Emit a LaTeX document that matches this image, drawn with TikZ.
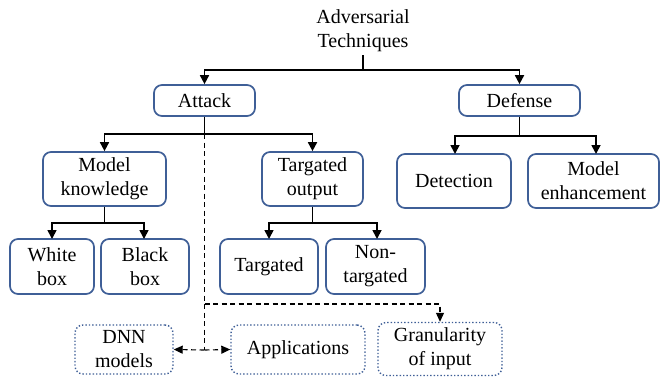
\documentclass[tikz,border=0pt]{standalone}
\usepackage{fontspec}
\setmainfont{Liberation Serif}
\usetikzlibrary{arrows.meta}
\definecolor{boxblue}{HTML}{3F5F97}
\begin{document}
\begin{tikzpicture}[x=1pt,y=-1pt,
  font=\rmfamily\fontsize{20}{24}\selectfont,
  box/.style={draw=boxblue,line width=1.7pt,rounded corners=8pt,align=center,inner sep=0pt},
  dbox/.style={draw=boxblue,line width=1.4pt,dotted,rounded corners=8pt,align=center,inner sep=0pt},
  line/.style={line width=1.7pt},
  conn/.style={line width=1.7pt,-{Triangle[length=9pt,width=9pt]}},
  dline/.style={line width=1.1pt,dash pattern=on 5pt off 3.5pt},
  dconn/.style={dline,-{Triangle[length=9pt,width=8pt]}}]
\useasboundingbox (0,0) rectangle (661,378);
\node[align=center,inner sep=0pt] (root) at (363,31) {Adversarial\\Techniques};
\node[box,minimum width=101pt,minimum height=31pt] (attack) at (204.5,100.5) {Attack};
\node[box,minimum width=121pt,minimum height=31pt] (defense) at (519.5,100.5) {Defense};
\node[box,minimum width=123pt,minimum height=54pt] (mk) at (104.5,179) {Model\\knowledge};
\node[box,minimum width=101pt,minimum height=54pt] (to) at (312.5,179) {Targated\\output};
\node[box,minimum width=114pt,minimum height=54pt] (det) at (454,181) {Detection};
\node[box,minimum width=131pt,minimum height=54pt] (me) at (593.5,181) {Model\\enhancement};
\node[box,minimum width=84pt,minimum height=55pt] (wb) at (52,266.5) {White\\box};
\node[box,minimum width=88pt,minimum height=55pt] (bb) at (145,266.5) {Black\\box};
\node[box,minimum width=98pt,minimum height=55pt] (tg) at (269,266.5) {Targated};
\node[box,minimum width=99pt,minimum height=55pt] (nt) at (375.5,266.5) {Non-\\targated};
\node[dbox,minimum width=98pt,minimum height=49pt] (dnn) at (124,349.5) {DNN\\models};
\node[dbox,minimum width=134pt,minimum height=49pt] (app) at (298,349.5) {Applications};
\node[dbox,minimum width=124pt,minimum height=53pt] (gran) at (440,349) {Granularity\\of input};
% root
\coordinate (r1) at (363,70);
\draw[line] (root.south) ++(0,3) -- (r1);
\draw[conn] (r1) -| (attack.north);
\draw[conn] (r1) -| (defense.north);
% attack
\coordinate (a1) at (204.5,134);
\draw[line] (attack.south) -- (a1);
\draw[conn] (a1) -| (mk.north);
\draw[conn] (a1) -| (to.north);
% defense
\coordinate (d1) at (519.5,136);
\draw[line] (defense.south) -- (d1);
\draw[conn] (d1) -| (455,154);
\draw[conn] (d1) -| (596,154);
% model knowledge
\coordinate (m1) at (104.5,223);
\draw[line] (mk.south) -- (m1);
\draw[conn] (m1) -| (52,239);
\draw[conn] (m1) -| (144,239);
% targated output
\coordinate (t1) at (312.5,223);
\draw[line] (to.south) -- (t1);
\draw[conn] (t1) -| (269,239);
\draw[conn] (t1) -| (377,239);
% dashed
\coordinate (e1) at (204.5,350);
\draw[dline] (a1) -- (e1);
\draw[dconn] (e1) -- (dnn.east);
\draw[dconn] (e1) -- (app.west);
\draw[dconn] (204.5,304) -| (gran.north);
\end{tikzpicture}
\end{document}
